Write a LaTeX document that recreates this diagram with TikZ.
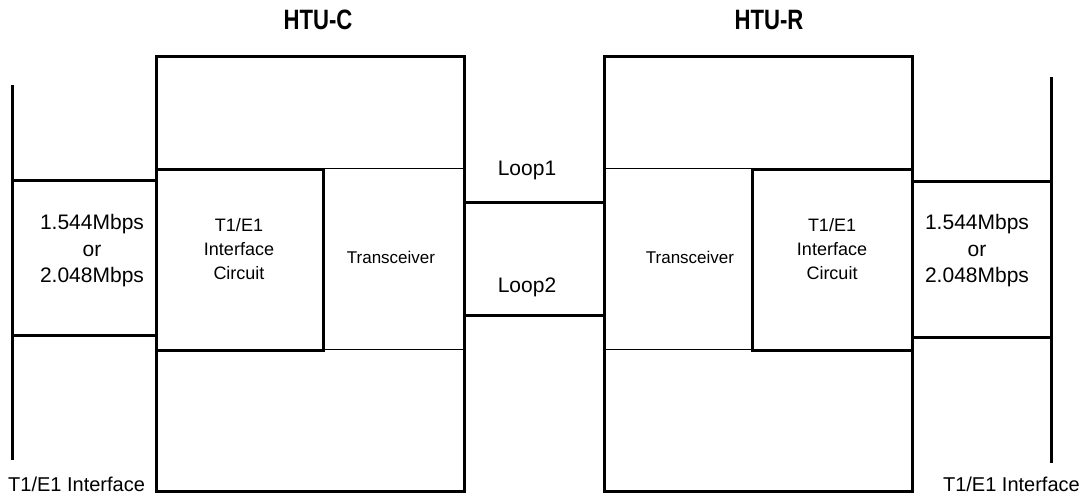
\documentclass[tikz,border=0pt]{standalone}
\usepackage{fontspec}
\setmainfont{Liberation Sans}
\begin{document}
\begin{tikzpicture}[x=1pt,y=-1pt,
  thickbox/.style={draw, line width=3pt, inner sep=0pt, anchor=north west},
  thinbox/.style={draw, line width=1pt, inner sep=0pt, anchor=north west},
  wire/.style={line width=3pt},
  title/.style={font=\fontsize{28}{32}\selectfont\bfseries, inner sep=0pt},
  big/.style={font=\fontsize{21}{26.5}\selectfont, align=center, inner sep=0pt},
  foot/.style={font=\fontsize{20}{24}\selectfont, inner sep=0pt},
  small/.style={font=\fontsize{18}{24}\selectfont, align=center, inner sep=0pt},
  trx/.style={font=\fontsize{17}{24}\selectfont, inner sep=0pt}]
\useasboundingbox (0,0) rectangle (1086,496);
% thin transceiver regions
\node[thinbox, minimum width=141pt, minimum height=181pt] (trc) at (322,168) {};
\node[thinbox, minimum width=148pt, minimum height=181pt] (trr) at (603,168) {};
% unit boxes
\node[thickbox, minimum width=308pt, minimum height=435pt] (htuc) at (155,55) {};
\node[thickbox, minimum width=308pt, minimum height=435pt] (htur) at (603,55) {};
% interface circuit boxes
\node[thickbox, minimum width=167pt, minimum height=181pt] (ifc) at (155,168) {};
\node[thickbox, minimum width=160pt, minimum height=181pt] (ifr) at (751,168) {};
% interface lines
\coordinate (lt) at (12,85);
\coordinate (lb) at (12,460);
\coordinate (rt) at (1051,77);
\coordinate (rb) at (1051,463);
\draw[wire] (lt) -- (lb);
\draw[wire] (rt) -- (rb);
\coordinate (l1) at (12,180);
\coordinate (l2) at (12,335);
\coordinate (r1) at (1051,181);
\coordinate (r2) at (1051,337);
\draw[wire] (l1) -- (l1 -| htuc.west);
\draw[wire] (l2) -- (l2 -| htuc.west);
\draw[wire] (r1) -- (r1 -| htur.east);
\draw[wire] (r2) -- (r2 -| htur.east);
% loops
\coordinate (p1) at (463,202);
\coordinate (p2) at (463,315);
\draw[wire] (p1) -- (p1 -| htur.west);
\draw[wire] (p2) -- (p2 -| htur.west);
% texts
\node[title] (tc) at (318,20) {\scalebox{0.79}[1]{HTU-C}};
\node[title] (tr) at (769,20) {\scalebox{0.79}[1]{HTU-R}};
\node[big] (ratel) at (92,251) {1.544Mbps\\or\\2.048Mbps};
\node[big] (rater) at (977,251) {1.544Mbps\\or\\2.048Mbps};
\node[small] (ifct) at (239,249) {T1/E1\\Interface\\Circuit};
\node[small] (ifrt) at (832,249) {T1/E1\\Interface\\Circuit};
\node[trx] (trct) at (391,257) {Transceiver};
\node[trx] (trrt) at (690,257) {Transceiver};
\node[big] (loop1) at (527,170) {Loop1};
\node[big] (loop2) at (527,287) {Loop2};
\node[foot, anchor=west] (ifl) at (8,484) {T1/E1 Interface};
\node[foot, anchor=east] (ifr2) at (1080,484) {T1/E1 Interface};
\end{tikzpicture}
\end{document}
